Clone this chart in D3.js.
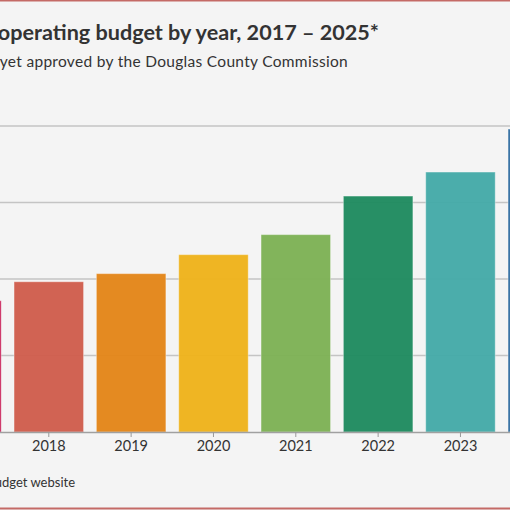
<!DOCTYPE html>
<html>
<head>
<meta charset="utf-8">
<script src="https://cdn.jsdelivr.net/npm/d3@7"></script>
<style>
  html, body { margin: 0; padding: 0; background: #f4f4f4; overflow: hidden; }
  svg { display: block; }
</style>
</head>
<body>
<div id="chart"></div>
<script>
var width = 510, height = 510;

// budget in $ millions
var years = ["2017", "2018", "2019", "2020", "2021", "2022", "2023", "2024", "2025"];
var budget = [85.8, 98.2, 103.5, 115.9, 129.0, 154.2, 169.9, 198.0, 210.0];
var colors = ["#c81f58", "#cf5e4d", "#e3861a", "#eeb31c", "#7eb256", "#208b60", "#45aaa8", "#3570a2", "#5b5ea6"];
var yTicks = [0, 50, 100, 150, 200];

var svg = d3.select("#chart")
  .append("svg")
  .attr("width", width)
  .attr("height", height);

svg.append("rect")
  .attr("width", width)
  .attr("height", height)
  .attr("fill", "#f4f4f4");

// red rules top and bottom
svg.append("line")
  .attr("x1", 0).attr("x2", width)
  .attr("y1", 0.5).attr("y2", 0.5)
  .attr("stroke", "#c46a66").attr("stroke-width", 2);
svg.append("line")
  .attr("x1", 0).attr("x2", width)
  .attr("y1", 508.5).attr("y2", 508.5)
  .attr("stroke", "#c46a66").attr("stroke-width", 2);

// the chart is wider than the window, so the range runs off both sides
var x = d3.scaleBand()
  .domain(years)
  .range([-74.7, 666.3])
  .paddingInner(0.156)
  .paddingOuter(0.078);

var y = d3.scaleLinear()
  .domain([0, 200])
  .range([432, 126]);

// gridlines
svg.append("g")
  .selectAll("line")
  .data(yTicks.slice(1))
  .enter()
  .append("line")
    .attr("x1", 0).attr("x2", width)
    .attr("y1", function(d){ return y(d); })
    .attr("y2", function(d){ return y(d); })
    .attr("stroke", "#c4c4c4")
    .attr("stroke-width", 1.5);

// bars
svg.append("g")
  .selectAll("rect")
  .data(years)
  .enter()
  .append("rect")
    .attr("x", function(d){ return x(d); })
    .attr("y", function(d, i){ return y(budget[i]); })
    .attr("width", x.bandwidth())
    .attr("height", function(d, i){ return y(0) - y(budget[i]); })
    .attr("fill", function(d, i){ return colors[i]; })
    .attr("fill-opacity", 0.97)
    .attr("stroke", "#ffffff")
    .attr("stroke-opacity", 0.35)
    .attr("stroke-width", 1);

// x axis
var xAxis = svg.append("g")
  .attr("transform", "translate(0," + y(0) + ")")
  .call(d3.axisBottom(x).tickSize(5).tickPadding(4));

xAxis.select(".domain")
  .attr("d", "M-80,0.5H600")
  .attr("stroke", "#a0a0a0")
  .attr("stroke-width", 1.5);
xAxis.selectAll(".tick line").attr("stroke", "#999");
xAxis.selectAll(".tick text")
  .attr("fill", "#333")
  .style("font-family", "Lato, 'Noto Sans', sans-serif")
  .style("font-size", "14.5px");
// labels of the years that fall outside the window are not drawn
xAxis.selectAll(".tick")
  .filter(function(d){ var c = x(d) + x.bandwidth() / 2; return c < 15 || c > width - 15; })
  .select("text").remove();

// titles (left part is outside the window)
svg.append("text")
  .attr("x", 379).attr("y", 40)
  .attr("text-anchor", "end")
  .attr("fill", "#333")
  .style("font-family", "Lato, 'Noto Sans', sans-serif")
  .style("font-weight", "bold")
  .style("font-size", "21.6px")
  .text("Douglas County operating budget by year, 2017 – 2025*");

svg.append("text")
  .attr("x", 348).attr("y", 67)
  .attr("text-anchor", "end")
  .attr("fill", "#333")
  .style("font-family", "Lato, 'Noto Sans', sans-serif")
  .style("font-size", "15.5px")
  .style("letter-spacing", "0.3px")
  .text("*2025 budget not yet approved by the Douglas County Commission");

svg.append("text")
  .attr("x", 75).attr("y", 487)
  .attr("text-anchor", "end")
  .attr("fill", "#333")
  .style("font-family", "Lato, 'Noto Sans', sans-serif")
  .style("font-size", "13px")
  .text("Source: Douglas County budget website");
</script>
</body>
</html>
